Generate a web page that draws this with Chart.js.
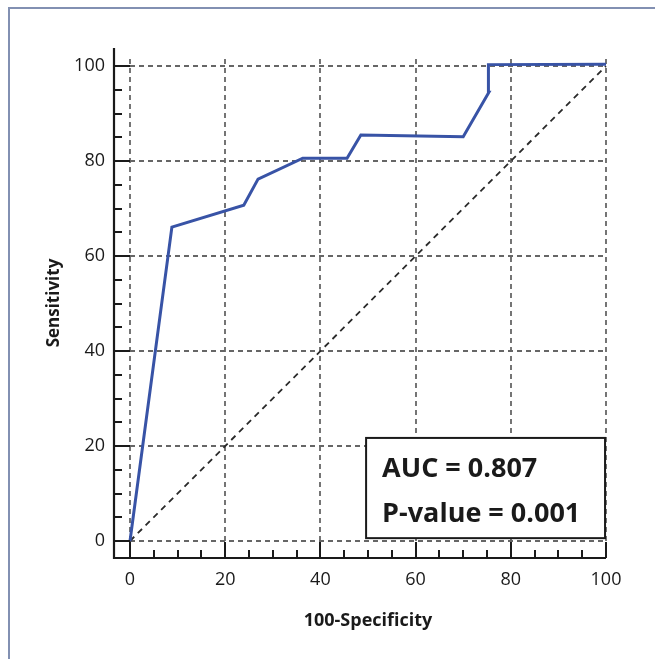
<!DOCTYPE html>
<html>
<head>
<meta charset="utf-8">
<script src="https://cdn.jsdelivr.net/npm/chart.js@4.4.1/dist/chart.umd.min.js"></script>
<style>
  html, body { margin: 0; padding: 0; background: #fff; }
  #wrap { position: relative; width: 655px; height: 659px; }
  #frame { position: absolute; left: 8px; top: 7px; right: 0; bottom: 0;
           border-left: 2px solid #8290b2; border-top: 2px solid #8290b2; }
  #rocChart { position: absolute; left: 0; top: 0; }
</style>
</head>
<body>
<div id="wrap">
  <div id="frame"></div>
  <canvas id="rocChart" width="655" height="659"></canvas>
</div>
<script>
// ROC curve
const fpr = [0, 8.8, 23.9, 26.9, 36.3, 45.6, 48.5, 70.0, 75.4, 75.3, 100];
const tpr = [0, 66.1, 70.7, 76.2, 80.6, 80.6, 85.5, 85.1, 94.5, 100.3, 100.4];
const refLine = [0, 100];
const majorTicks = [0, 20, 40, 60, 80, 100];
const minorTicks = [5, 10, 15, 25, 30, 35, 45, 50, 55, 65, 70, 75, 85, 90, 95];
const statLines = ['AUC = 0.807', 'P-value = 0.001'];
const statBox = {x0: 49.6, x1: 99.8, y0: 0.6, y1: 21.7};

const rocPoints = fpr.map((x, i) => ({x: x, y: tpr[i]}));
const diagPoints = refLine.map(v => ({x: v, y: v}));

const AXIS_GAP = 16; // axis lines sit a bit outside the 0 marks

// grid, axis lines and inward ticks
const axesPlugin = {
  id: 'axesPlugin',
  beforeDatasetsDraw(chart) {
    const {ctx, scales: {x, y}} = chart;
    ctx.save();
    ctx.strokeStyle = '#666';
    ctx.lineWidth = 1.8;
    ctx.setLineDash([5, 4]);
    majorTicks.forEach(v => {
      const px = Math.round(x.getPixelForValue(v));
      ctx.beginPath();
      ctx.moveTo(px, y.getPixelForValue(0));
      ctx.lineTo(px, y.getPixelForValue(102));
      ctx.stroke();
      const py = Math.round(y.getPixelForValue(v));
      ctx.beginPath();
      ctx.moveTo(x.getPixelForValue(0), py);
      ctx.lineTo(x.getPixelForValue(100), py);
      ctx.stroke();
    });
    ctx.restore();
  },
  afterDatasetsDraw(chart) {
    const {ctx, chartArea, scales: {x, y}} = chart;
    const l = chartArea.left - AXIS_GAP, b = chartArea.bottom;
    ctx.save();
    ctx.strokeStyle = '#1a1a1a';
    ctx.lineWidth = 2.2;
    ctx.beginPath();
    ctx.moveTo(l, chartArea.top);
    ctx.lineTo(l, b);
    ctx.lineTo(chartArea.right, b);
    ctx.stroke();
    ctx.lineWidth = 2;
    const tick = (vals, len) => vals.forEach(v => {
      const px = Math.round(x.getPixelForValue(v));
      const py = Math.round(y.getPixelForValue(v));
      ctx.beginPath();
      ctx.moveTo(l, py); ctx.lineTo(l + len, py);
      ctx.moveTo(px, b); ctx.lineTo(px, b - len);
      ctx.stroke();
    });
    tick(majorTicks, 16);
    tick(minorTicks, 8);

    // stats box
    const bx0 = x.getPixelForValue(statBox.x0), bx1 = x.getPixelForValue(statBox.x1);
    const by0 = y.getPixelForValue(statBox.y1), by1 = y.getPixelForValue(statBox.y0);
    ctx.fillStyle = '#fff';
    ctx.fillRect(bx0, by0, bx1 - bx0, by1 - by0);
    ctx.strokeStyle = '#1a1a1a';
    ctx.lineWidth = 2;
    ctx.strokeRect(bx0, by0, bx1 - bx0, by1 - by0);
    ctx.fillStyle = '#1a1a1a';
    ctx.font = 'bold 27px "Open Sans"';
    ctx.textBaseline = 'middle';
    ctx.textAlign = 'left';
    const h = by1 - by0;
    statLines.forEach((t, i) => {
      ctx.fillText(t, bx0 + 16, by0 + h * (0.31 + 0.45 * i));
    });
    ctx.restore();
  }
};

new Chart('rocChart', {
  type: 'scatter',
  data: {
    datasets: [{
      data: rocPoints,
      showLine: true,
      borderColor: '#3853a6',
      borderWidth: 3,
      pointRadius: 0,
      fill: false,
      tension: 0,
      clip: false
    }, {
      data: diagPoints,
      showLine: true,
      borderColor: '#2a2a2a',
      borderWidth: 1.8,
      borderDash: [6, 5],
      pointRadius: 0,
      fill: false,
      clip: false
    }]
  },
  options: {
    responsive: false,
    animation: false,
    layout: {padding: {left: 0, right: 49, top: 48, bottom: 0}},
    plugins: {legend: {display: false}, tooltip: {enabled: false}},
    scales: {
      x: {
        type: 'linear',
        min: 0, max: 100,
        afterBuildTicks: s => { s.ticks = majorTicks.map(v => ({value: v})); },
        afterFit: s => { s.height = 101; },
        grid: {display: false, drawTicks: false},
        border: {display: false},
        ticks: {padding: 11, color: '#1a1a1a', font: {family: 'Open Sans', size: 18}},
        title: {display: true, text: '100-Specificity', color: '#1a1a1a',
                font: {family: 'Open Sans', size: 18, weight: 'bold'}, padding: {bottom: 27}}
      },
      y: {
        type: 'linear',
        min: -3.58, max: 103.8,
        afterBuildTicks: s => { s.ticks = majorTicks.map(v => ({value: v})); },
        afterFit: s => { s.width = 130; },
        grid: {display: false, drawTicks: false},
        border: {display: false},
        ticks: {padding: 25, color: '#1a1a1a', font: {family: 'Open Sans', size: 18}},
        title: {display: true, text: 'Sensitivity', color: '#1a1a1a',
                font: {family: 'Open Sans', size: 17, weight: 'bold'}, padding: {top: 44}}
      }
    }
  },
  plugins: [axesPlugin]
});
</script>
</body>
</html>
